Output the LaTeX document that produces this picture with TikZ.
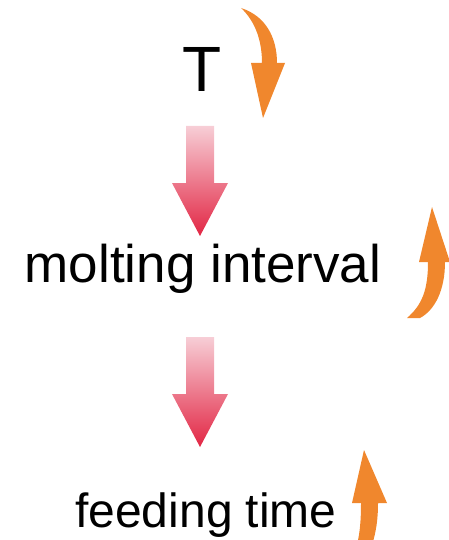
\documentclass[tikz,border=0pt]{standalone}
\usepackage{fontspec}
\setmainfont{Liberation Sans}
\definecolor{flowpink}{RGB}{247,206,214}
\definecolor{flowred}{RGB}{226,38,68}
\definecolor{trendorange}{RGB}{240,135,45}

\begin{document}
\begin{tikzpicture}[x=1pt, y=-1pt,
    term/.style={anchor=base, inner sep=0pt, text=black},
    flow/.style={top color=flowpink, bottom color=flowred, draw=none},
    trend/.style={fill=trendorange, draw=none}
]
    \useasboundingbox (0,0) rectangle (449,540);
    \clip (0,0) rectangle (449,540);
    \node[term, font=\fontsize{64}{64}\selectfont] (t) at (202,92) {T};
    \node[term, font=\fontsize{53}{53}\selectfont] (molt) at (203,282) {molting interval};
    \node[term, font=\fontsize{48}{48}\selectfont] (feed) at (206,527) {feeding time};
    % block arrows between the terms
    \coordinate (f1) at (200,126);
    \coordinate (f2) at (200,337);
    \foreach \s in {f1,f2}
        \path[flow] (\s) ++(-14,0) -- ++(28,0) -- ++(0,57) -- ++(14,0)
            -- ++(-28,53) -- ++(-28,-53) -- ++(14,0) -- cycle;
    % curved trend arrows
    \path[trend] (241,8) .. controls (266,16) and (277,38) .. (277,63)
        -- (285,63) -- (263,118) -- (251,63) -- (262,63)
        .. controls (262,42) and (256,22) .. (241,8) -- cycle;
    \path[trend] (432,207) -- (450,262) -- (445,262)
        .. controls (445,290) and (435,310) .. (420,318) -- (407,318)
        .. controls (422,305) and (428,290) .. (428,262) -- (419,262) -- cycle;
    \path[trend] (364,450) -- (387,503) -- (378,503)
        .. controls (378,520) and (376,532) .. (372,545) -- (357,545)
        .. controls (360,532) and (361,520) .. (361,503) -- (352,503) -- cycle;
\end{tikzpicture}
\end{document}
